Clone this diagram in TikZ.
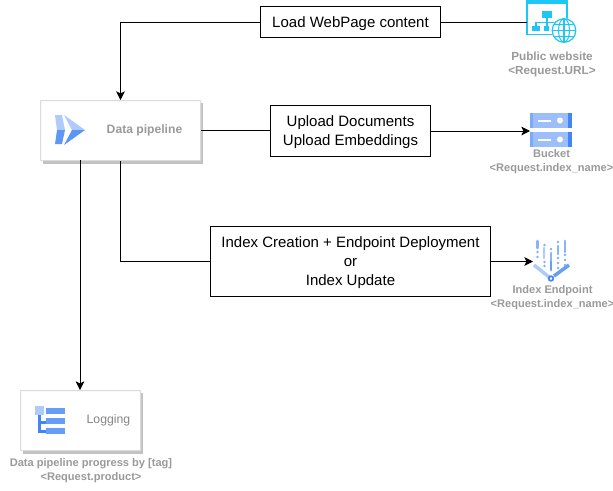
\documentclass[tikz,border=0pt]{standalone}
\usepackage{fontspec}
\setmainfont{Liberation Sans}
\usetikzlibrary{arrows.meta,calc}
\definecolor{lblue}{HTML}{AECBFA}
\definecolor{mblue}{HTML}{669DF6}
\definecolor{dblue}{HTML}{4285F4}
\definecolor{cyanb}{HTML}{1CC6F5}
\definecolor{lbl}{HTML}{9A9A9A}
\newcommand\dnline[1]{\raisebox{-1pt}[\height][\depth]{#1}}
\tikzset{
  x=0.75pt,y=-0.75pt,
  textbox/.style={draw=black,line width=0.75pt,fill=white,align=center,font=\fontsize{11.25}{14.2}\selectfont,inner sep=0pt,anchor=north west},
  card/.style={draw=black!14,line width=0.75pt,fill=white,inner sep=0pt,anchor=north west,rounded corners=0.5pt},
  cardshadow/.style={fill=black!24,draw=none},
  small/.style={text=lbl,align=center,font=\bfseries\fontsize{8.3}{10.5}\selectfont,inner sep=0pt},
  link/.style={draw=black,line width=0.75pt},
  arrowlink/.style={link,-{Stealth[length=6.5pt,width=6.5pt,inset=1.6pt]}}
}
\begin{document}
\begin{tikzpicture}
\useasboundingbox (0,0) rectangle (613,490);
\fill[white] (0,0) rectangle (613,490);

% cards
\fill[cardshadow] (43,103) rectangle (203,163.5);
\node[card,minimum width=120pt,minimum height=45pt] (pipe) at (40,100) {};
\fill[cardshadow] (23,393) rectangle (143,453.5);
\node[card,minimum width=90pt,minimum height=45pt] (logbox) at (20,390) {};

\node[small,font=\bfseries\fontsize{9.1}{11}\selectfont] (pipetxt) at (144.5,130) {Data pipeline};
\node[text=black!48,font=\fontsize{9.2}{11}\selectfont,inner sep=0pt] (logtxt) at (108.5,420) {Logging};

% pipeline icon
\fill[lblue] (55,115) -- (62,115) -- (65,130) -- (57,130) -- cycle;
\fill[dblue!85] (57,130) -- (65,130) -- (62,144) -- (55,144) -- cycle;
\fill[lblue] (64,115) -- (85,130) -- (72,130) -- cycle;
\fill[mblue!70!dblue] (72,130) -- (85,130) -- (64,145) -- cycle;

% logging icon
\fill[dblue] (38,415) rectangle (41,431);
\fill[dblue] (38,421) rectangle (46,423.5);
\fill[dblue] (38,430) rectangle (46,432.5);
\fill[lblue] (35,406) rectangle (44,415);
\fill[mblue] (46,407.5) rectangle (65,413.5);
\fill[mblue] (46,418) rectangle (65,424);
\fill[mblue] (46,428) rectangle (65,434);

% text boxes
\node[textbox,minimum width=135pt,minimum height=23.25pt] (load) at (260,6) {\dnline{Load WebPage content}};
\node[textbox,minimum width=120pt,minimum height=38.25pt] (upload) at (270,105) {\dnline{Upload Documents}\\\dnline{Upload Embeddings}};
\node[textbox,minimum width=210pt,minimum height=52.5pt] (index) at (210,226) {\dnline{Index Creation + Endpoint Deployment}\\\dnline{or}\\\dnline{Index Update}};

% website icon
\coordinate (web) at (527,21.5);
\fill[white,draw=cyanb,line width=1pt] (527,0.5) rectangle (567,34.5);
\fill[cyanb] (527,0) rectangle (567.5,4);
\fill[cyanb] (542,11) rectangle (552,18);
\fill[cyanb] (532,26) rectangle (540,31);
\fill[cyanb] (544,26) rectangle (549,31);
\draw[cyanb,line width=0.8pt] (547,18) -- (547,22.5) (536,26) -- (536,22.5) -- (558,22.5) (547,22.5) -- (547,26);
\fill[white] (564,30.5) circle[radius=12.5];
\draw[cyanb,line width=0.9pt] (564,30.5) circle[radius=11.8];
\draw[cyanb,line width=0.8pt] (564,30.5) ellipse[x radius=5.5,y radius=11.8];
\draw[cyanb,line width=0.8pt] (564,18.7) -- (564,42.3) (552.2,30.5) -- (575.8,30.5) (554,24.5) -- (574,24.5) (554,36.5) -- (574,36.5);

% bucket icon
\coordinate (bucket) at (530,130.5);
\fill[mblue!65] (530,113) rectangle (572,128);
\fill[mblue!65] (530,132) rectangle (572,147);
\fill[dblue] (568,113) rectangle (572,128);
\fill[dblue] (568,132) rectangle (572,147);
\fill[dblue!70] (530,113) rectangle (533,128);
\fill[dblue!70] (530,132) rectangle (533,147);
\fill[white] (538,119.5) rectangle (551,121.5);
\fill[white] (538,138.5) rectangle (551,140.5);
\fill[white] (560,120.5) circle[radius=3];
\fill[white] (560,139.5) circle[radius=3];

% index endpoint icon
\coordinate (endpt) at (533,261);
\draw[lblue,line width=2.6pt] (534,265) -- (549,277);
\draw[mblue,line width=2.6pt] (554,276) -- (569,265);
\draw[dblue,line width=1.3pt] (551,278.5) circle[radius=2.3];
\foreach \p/\a/\b in {537.5/241/248,551/253/262,558/246/254,565/241/252}{
  \draw[lblue!50!mblue,line width=2.2pt,line cap=round] (\p,\a) -- (\p,\b);
}
\draw[lblue,line width=2.2pt,line cap=round] (544,248) -- (544,258);
\draw[mblue,line width=2.2pt,line cap=round] (551,262) -- (551,270);
\foreach \p/\y in {537.5/252,537.5/257,544.5/245,544.5/262,544.5/266,551/249,558/242,558/258,558/263,558/268,565/255,565/260,565/265}{
  \fill[lblue!40!mblue] (\p,\y) circle[radius=1.3];
}

% connectors
\draw[arrowlink] (load.west) -| (pipe.north);
\draw[link] (load.east) -- (load.east -| web);
\draw[link] (pipe.east) -- (pipe.east -| upload.west);
\draw[arrowlink] (upload.east) -- (upload.east -| bucket);
\draw[link] (pipe.south) |- (index.west);
\draw[arrowlink] (index.east) -- (index.east -| endpt);
\coordinate (pipeb) at (80,160);
\draw[arrowlink] (pipeb) -- (pipeb |- logbox.north);

% labels
\node[small,font=\bfseries\fontsize{8.8}{10.5}\selectfont] (lweb) at (552,64.5) {Public website\\<Request.URL>};
\node[small] (lbucket) at (551.5,161.5) {Bucket\\<Request.index\_name>};
\node[small] (lendpt) at (552.5,298) {Index Endpoint\\<Request.index\_name>};
\node[small] (llog) at (91,471) {Data pipeline progress by [tag]\\<Request.product>};
\end{tikzpicture}
\end{document}
